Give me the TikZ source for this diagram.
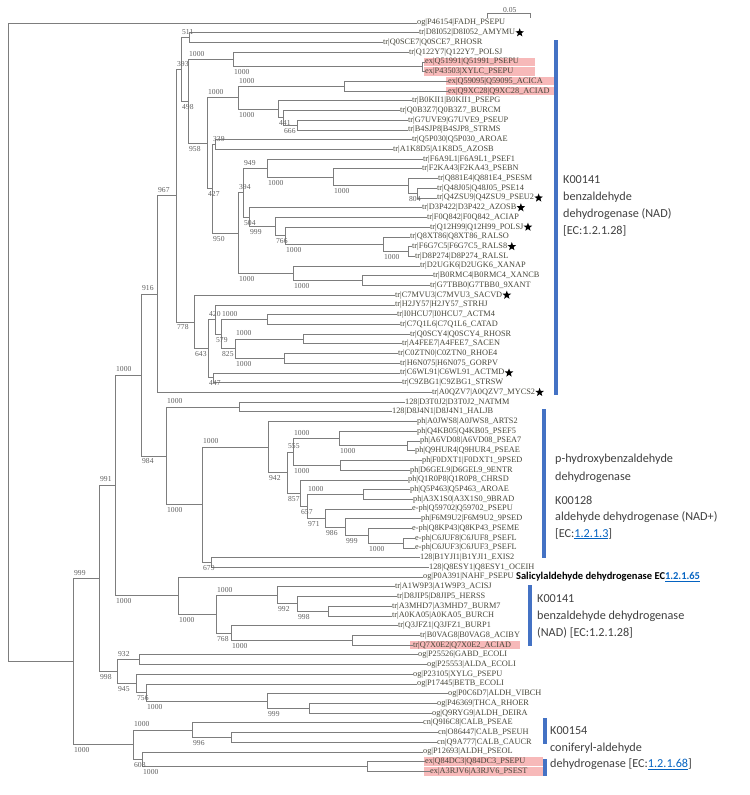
\documentclass[tikz,border=0pt]{standalone}
\usepackage{fontspec}
\setmainfont{Liberation Serif}
\newfontfamily\calib{Carlito}
\usetikzlibrary{shapes.geometric, positioning, calc}
\definecolor{branchgray}{RGB}{125,125,125}
\definecolor{leafgray}{RGB}{70,70,58}
\definecolor{bsgray}{RGB}{95,95,95}
\definecolor{hlpink}{RGB}{247,185,185}
\definecolor{kblue}{RGB}{68,114,196}
\definecolor{notegray}{RGB}{64,64,64}
\definecolor{linkblue}{RGB}{5,99,193}
\newcommand{\eclink}[1]{\textcolor{linkblue}{\underline{#1}}}
\newcommand{\notelines}[1]{\begin{tabular}[t]{@{}l@{}}#1\end{tabular}}

\tikzset{
  br/.style={draw=branchgray, line width=0.6pt},
  leaf/.style={anchor=west, inner sep=0pt, font=\fontsize{8.3}{9}\selectfont, text=leafgray},
  bs/.style={anchor=west, inner sep=0pt, font=\fontsize{7.6}{8}\selectfont, text=bsgray},
  hilite/.style={fill=hlpink, draw=none},
  kbar/.style={fill=kblue, draw=none},
  note/.style={anchor=base west, inner sep=0pt, text=notegray,
    font=\calib\fontsize{12.2}{17}\selectfont},
  fav/.style={star, star points=5, star point ratio=2.4, fill=black, inner sep=0pt, minimum size=9pt},
}

\begin{document}
\begin{tikzpicture}[x=1pt, y=-9.72pt]
\useasboundingbox (0,-1.366) rectangle (750,80.43);

% pink highlights
\foreach \i/\xa/\xb in {5/424/535, 6/424/535, 7/446/555, 8/446/555, 65/410/520, 77/424/543, 78/424/543}
  \fill[hilite] (\xa,\i-0.43) rectangle (\xb,\i+0.43);

% leaves
\foreach \i/\x/\t in {
  1/417/{og|P46154|FADH\_PSEPU}, 2/419/{tr|D8I052|D8I052\_AMYMU}, 3/383/{tr|Q0SCE7|Q0SCE7\_RHOSR},
  4/409/{tr|Q122Y7|Q122Y7\_POLSJ}, 5/425/{ex|Q51991|Q51991\_PSEPU}, 6/425/{ex|P43503|XYLC\_PSEPU},
  7/448/{ex|Q59095|Q59095\_ACICA}, 8/448/{ex|Q9XC28|Q9XC28\_ACIAD}, 9/412/{tr|B0KII1|B0KII1\_PSEPG},
  10/400/{tr|Q0B3Z7|Q0B3Z7\_BURCM}, 11/408/{tr|G7UVE9|G7UVE9\_PSEUP}, 12/408/{tr|B4SJP8|B4SJP8\_STRMS},
  13/412/{tr|Q5P030|Q5P030\_AROAE}, 14/393/{tr|A1K8D5|A1K8D5\_AZOSB}, 15/423/{tr|F6A9L1|F6A9L1\_PSEF1},
  16/422/{tr|F2KA43|F2KA43\_PSEBN}, 17/438/{tr|Q881E4|Q881E4\_PSESM}, 18/437/{tr|Q48J05|Q48J05\_PSE14},
  19/437/{tr|Q4ZSU9|Q4ZSU9\_PSEU2}, 20/422/{tr|D3P422|D3P422\_AZOSB}, 21/427/{tr|F0Q842|F0Q842\_ACIAP},
  22/430/{tr|Q12H99|Q12H99\_POLSJ}, 23/410/{tr|Q8XT86|Q8XT86\_RALSO}, 24/412/{tr|F6G7C5|F6G7C5\_RALS8},
  25/415/{tr|D8P274|D8P274\_RALSL}, 26/420/{tr|D2UGK6|D2UGK6\_XANAP}, 27/433/{tr|B0RMC4|B0RMC4\_XANCB},
  28/430/{tr|G7TBB0|G7TBB0\_9XANT}, 29/395/{tr|C7MVU3|C7MVU3\_SACVD}, 30/395/{tr|H2JY57|H2JY57\_STRHJ},
  31/397/{tr|I0HCU7|I0HCU7\_ACTM4}, 32/400/{tr|C7Q1L6|C7Q1L6\_CATAD}, 33/410/{tr|Q0SCY4|Q0SCY4\_RHOSR},
  34/402/{tr|A4FEE7|A4FEE7\_SACEN}, 35/398/{tr|C0ZTN0|C0ZTN0\_RHOE4}, 36/400/{tr|H6N075|H6N075\_GORPV},
  37/400/{tr|C6WL91|C6WL91\_ACTMD}, 38/402/{tr|C9ZBG1|C9ZBG1\_STRSW}, 39/432/{tr|A0QZV7|A0QZV7\_MYCS2},
  40/405/{128|D3T0J2|D3T0J2\_NATMM}, 41/392/{128|D8J4N1|D8J4N1\_HALJB}, 42/417/{ph|A0JWS8|A0JWS8\_ARTS2},
  43/417/{ph|Q4KB05|Q4KB05\_PSEF5}, 44/420/{ph|A6VD08|A6VD08\_PSEA7}, 45/415/{ph|Q9HUR4|Q9HUR4\_PSEAE},
  46/422/{ph|F0DXT1|F0DXT1\_9PSED}, 47/410/{ph|D6GEL9|D6GEL9\_9ENTR}, 48/408/{ph|Q1R0P8|Q1R0P8\_CHRSD},
  49/410/{ph|Q5P463|Q5P463\_AROAE}, 50/413/{ph|A3X1S0|A3X1S0\_9BRAD}, 51/412/{e-ph|Q59702|Q59702\_PSEPU},
  52/421/{ph|F6M9U2|F6M9U2\_9PSED}, 53/412/{e-ph|Q8KP43|Q8KP43\_PSEME}, 54/415/{e-ph|C6JUF8|C6JUF8\_PSEFL},
  55/415/{e-ph|C6JUF3|C6JUF3\_PSEFL}, 56/420/{128|B1YJI1|B1YJI1\_EXIS2}, 57/429/{128|Q8ESY1|Q8ESY1\_OCEIH},
  58/423/{og|P0A391|NAHF\_PSEPU}, 59/395/{tr|A1W9P3|A1W9P3\_ACISJ}, 60/397/{tr|D8JIP5|D8JIP5\_HERSS},
  61/392/{tr|A3MHD7|A3MHD7\_BURM7}, 62/392/{tr|A0KA05|A0KA05\_BURCH}, 63/398/{tr|Q3JFZ1|Q3JFZ1\_BURP1},
  64/420/{tr|B0VAG8|B0VAG8\_ACIBY}, 65/413/{tr|Q7X0E2|Q7X0E2\_ACIAD}, 66/418/{og|P25526|GABD\_ECOLI},
  67/427/{og|P25553|ALDA\_ECOLI}, 68/413/{og|P23105|XYLG\_PSEPU}, 69/417/{og|P17445|BETB\_ECOLI},
  70/448/{og|P0C6D7|ALDH\_VIBCH}, 71/437/{og|P46369|THCA\_RHOER}, 72/432/{og|Q9RYG9|ALDH\_DEIRA},
  73/423/{cn|Q9I6C8|CALB\_PSEAE}, 74/438/{cn|O86447|CALB\_PSEUH}, 75/437/{cn|Q9A777|CALB\_CAUCR},
  76/423/{og|P12693|ALDH\_PSEOL}, 77/425/{ex|Q84DC3|Q84DC3\_PSEPU}, 78/430/{ex|A3RJV6|A3RJV6\_PSEST}}
  \node[leaf] (l\i) at (\x,\i) {\t};

% stars
\foreach \i in {2,19,20,22,24,29,37,39}
  \node[fav, right=1.5pt of l\i] {};

% internal nodes (x in px, y in leaf rows)
\coordinate (a1) at (189,2.5);       \coordinate (p1) at (422,5.5);
\coordinate (a2) at (233,4.75);      \coordinate (s1) at (344,7.5);
\coordinate (v1) at (297,11.5);      \coordinate (u1) at (283,10.75);
\coordinate (t1) at (278,9.875);     \coordinate (r1) at (238,8.6875);
\coordinate (q1) at (215,13.5);      \coordinate (z2) at (417,18.5);
\coordinate (z1) at (408,17.75);     \coordinate (y1) at (333,16.875);
\coordinate (x1) at (267,15.9375);   \coordinate (q2) at (408,24.5);
\coordinate (q3) at (383,23.75);     \coordinate (q4) at (285,22.875);
\coordinate (q5) at (275,21.9375);   \coordinate (q6) at (249,20.969);
\coordinate (x2) at (243,18.453);    \coordinate (xn2) at (362,27.5);
\coordinate (xn1) at (293,26.75);    \coordinate (x3) at (238,22.60);
\coordinate (n212) at (212,18.05);   \coordinate (n207) at (207,13.37);
\coordinate (n188) at (188,9.06);    \coordinate (n181) at (181,5.78);
\coordinate (ic) at (267,31.5);      \coordinate (sc) at (303,33.5);
\coordinate (rg) at (284,35.5);      \coordinate (n235) at (235,34.5);
\coordinate (n220) at (221,33);      \coordinate (n215) at (215,31.5);
\coordinate (nc6) at (213,37.5);     \coordinate (n208) at (208,34.5);
\coordinate (n778) at (194,31.75);   \coordinate (n176) at (176,18.77);
\coordinate (n967) at (157,28.88);
\coordinate (h1) at (239,40.5);      \coordinate (pB) at (407,44.5);
\coordinate (pA) at (339,43.75);     \coordinate (pF) at (340,46.5);
\coordinate (p555) at (293,45.125);  \coordinate (pC) at (363,49.5);
\coordinate (pJ) at (403,54.5);      \coordinate (pK) at (368,53.75);
\coordinate (n345) at (345,52.875);  \coordinate (n325) at (325,51.9375);
\coordinate (n307) at (307,50.72);   \coordinate (n300) at (300,49.36);
\coordinate (p942) at (287,47.24);   \coordinate (pA0) at (268,44.62);
\coordinate (ex) at (211,56.5);      \coordinate (n202) at (202,50.56);
\coordinate (k128) at (166,45.53);   \coordinate (n141) at (141,37.2);
\coordinate (c1) at (328,61.5);      \coordinate (c2) at (297,60.75);
\coordinate (c3) at (277,59.875);    \coordinate (c4) at (352,64.5);
\coordinate (c5) at (231,63.75);     \coordinate (c6) at (216,61.81);
\coordinate (c7) at (178,59.91);     \coordinate (n115) at (115,48.55);
\coordinate (n139) at (139,66.5);    \coordinate (o1) at (309,71.5);
\coordinate (o2) at (267,70.75);     \coordinate (n145) at (146,69.875);
\coordinate (n136) at (136,68.94);   \coordinate (n117) at (117,67.72);
\coordinate (n99) at (99,58.13);
\coordinate (cA) at (231,74.5);      \coordinate (cB) at (192,73.75);
\coordinate (eA) at (367,77.5);      \coordinate (n142) at (142,76.75);
\coordinate (n133) at (133,75.25);   \coordinate (n73) at (73,66.69);
\coordinate (root) at (8,33.8);

% branches
\foreach \p/\c in {a1/l2.west, a1/l3.west, p1/l5.west, p1/l6.west, a2/l4.west, a2/p1,
  s1/l7.west, s1/l8.west, v1/l11.west, v1/l12.west, u1/l10.west, u1/v1,
  t1/l9.west, t1/u1, r1/s1, r1/t1, q1/l13.west, q1/l14.west,
  z2/l18.west, z2/l19.west, z1/l17.west, z1/z2, y1/l16.west, y1/z1, x1/l15.west, x1/y1,
  q2/l24.west, q2/l25.west, q3/l23.west, q3/q2, q4/l22.west, q4/q3, q5/l21.west, q5/q4,
  q6/l20.west, q6/q5, x2/x1, x2/q6, xn2/l27.west, xn2/l28.west, xn1/l26.west, xn1/xn2,
  x3/x2, x3/xn1, n212/q1, n212/x3, n207/r1, n207/n212, n188/a2, n188/n207,
  n181/a1, n181/n188,
  ic/l31.west, ic/l32.west, sc/l33.west, sc/l34.west, rg/l35.west, rg/l36.west,
  n235/sc, n235/rg, n220/ic, n220/n235, n215/l30.west, n215/n220, nc6/l37.west, nc6/l38.west,
  n208/n215, n208/nc6, n778/l29.west, n778/n208, n176/n181, n176/n778,
  n967/n176, n967/l39.west,
  h1/l40.west, h1/l41.west, pB/l44.west, pB/l45.west, pA/l43.west, pA/pB,
  pF/l46.west, pF/l47.west, p555/pA, p555/pF, pC/l49.west, pC/l50.west,
  pJ/l54.west, pJ/l55.west, pK/l53.west, pK/pJ, n345/l52.west, n345/pK,
  n325/l51.west, n325/n345, n307/pC, n307/n325, n300/l48.west, n300/n307,
  p942/p555, p942/n300, pA0/l42.west, pA0/p942,
  ex/l56.west, ex/l57.west, n202/pA0, n202/ex, k128/h1, k128/n202,
  n141/n967, n141/k128,
  c1/l61.west, c1/l62.west, c2/l60.west, c2/c1, c3/l59.west, c3/c2, c4/l64.west, c4/l65.west,
  c5/l63.west, c5/c4, c6/c3, c6/c5, c7/l58.west, c7/c6, n115/n141, n115/c7,
  n139/l66.west, n139/l67.west, o1/l71.west, o1/l72.west, o2/l70.west, o2/o1,
  n145/l69.west, n145/o2, n136/l68.west, n136/n145, n117/n139, n117/n136,
  n99/n115, n99/n117,
  cA/l74.west, cA/l75.west, cB/l73.west, cB/cA, eA/l77.west, eA/l78.west,
  n142/l76.west, n142/eA, n133/cB, n133/n142, n73/n99, n73/n133,
  root/l1.west, root/n73}
  \draw[br] (\p) |- (\c);

% bootstrap values above the branch
\foreach \p/\c/\v in {n181/a1/511, n188/a2/1000, n176/n181/393, n207/r1/1000, r1/s1/1000,
  n212/q1/339, n967/n176/967, x3/x2/394, x2/x1/949, n141/n967/916, n115/n141/1000,
  n99/n115/991, n73/n99/999, n208/n215/420, n220/ic/1000, n235/sc/1000, k128/h1/1000,
  n202/pA0/1000, p942/p555/555, p555/pA/1000, n307/pC/1000, c6/c3/1000, n117/n139/932,
  n133/cB/1000}
  \path (\p |- \c) ++(1,-0.58) node[bs] {\v};

% bootstrap values below the branch
\foreach \p/\c/\v in {n181/n188/498, n188/n207/958, n207/n212/427, r1/t1/1000, t1/u1/441,
  u1/v1/666, a2/p1/1000, n212/x3/950, x3/xn1/1000, xn1/xn2/1000, x1/y1/1000, y1/z1/1000,
  z1/z2/804, x2/q6/504, q6/q5/999, q5/q4/766, q4/q3/1000, q3/q2/1000, n176/n778/778,
  n778/n208/643, n208/nc6/447, n215/n220/579, n220/n235/825, n235/rg/1000, n141/k128/984,
  k128/n202/1000, n202/ex/679, pA0/p942/942, p942/n300/857, p555/pF/1000, pA/pB/1000,
  n300/n307/657, n307/n325/971, n325/n345/986, n345/pK/999, pK/pJ/1000, n115/c7/1000,
  c7/c6/1000, c6/c5/768, c3/c2/992, c2/c1/998, c5/c4/1000, n99/n117/998, n117/n136/945,
  n136/n145/756, n145/o2/1000, o2/o1/999, n73/n133/1000, n133/n142/608, n142/eA/1000,
  cB/cA/996}
  \path (\p |- \c) ++(1,0.58) node[bs] {\v};

% scale bar
\coordinate (sbL) at (487,0.0);
\coordinate (sbR) at (530,0.0);
\draw[br] (sbL) -- (sbR);
\draw[br] (sbL) -- ++(0,0.5);
\draw[br] (sbR) -- ++(0,0.5);
\node[bs, anchor=south] (sbt) at ($(sbL)!0.53!(sbR)$) {0.05};

% category bars
\fill[kbar] (554,2.75) rectangle (558,39.27);
\fill[kbar] (542,40.71) rectangle (546,56.04);
\fill[kbar] (528,58.82) rectangle (532,65.1);
\fill[kbar] (543,72.5) rectangle (547,75.2);
\fill[kbar] (543,76.72) rectangle (547,78.47);

% annotations
\node[note] (txtA) at (563,17.56) {\notelines{K00141\\benzaldehyde\\dehydrogenase (NAD)\\{[EC:1.2.1.28]}}};
\node[note, font=\calib\fontsize{12.2}{18.5}\selectfont] (txtB) at (555,46.17)
  {\notelines{p-hydroxybenzaldehyde\\dehydrogenase}};
\node[note, font=\calib\fontsize{12.2}{16.5}\selectfont] (txtC) at (555,50.49)
  {\notelines{K00128\\aldehyde dehydrogenase (NAD+)\\{[EC:\eclink{1.2.1.3}]}}};
\node[anchor=west, inner sep=0pt, text=black, font=\calib\bfseries\fontsize{10.5}{12}\selectfont,
  right=2pt of l58] (txtS) {Salicylaldehyde dehydrogenase EC\eclink{1.2.1.65}};
\node[note] (txtD) at (537,60.67) {\notelines{K00141\\benzaldehyde dehydrogenase\\(NAD) [EC:1.2.1.28]}};
\node[note, font=\calib\fontsize{12.2}{16.5}\selectfont] (txtE) at (550,74.25)
  {\notelines{K00154\\coniferyl-aldehyde\\dehydrogenase [EC:\eclink{1.2.1.68}]}};
\end{tikzpicture}
\end{document}
